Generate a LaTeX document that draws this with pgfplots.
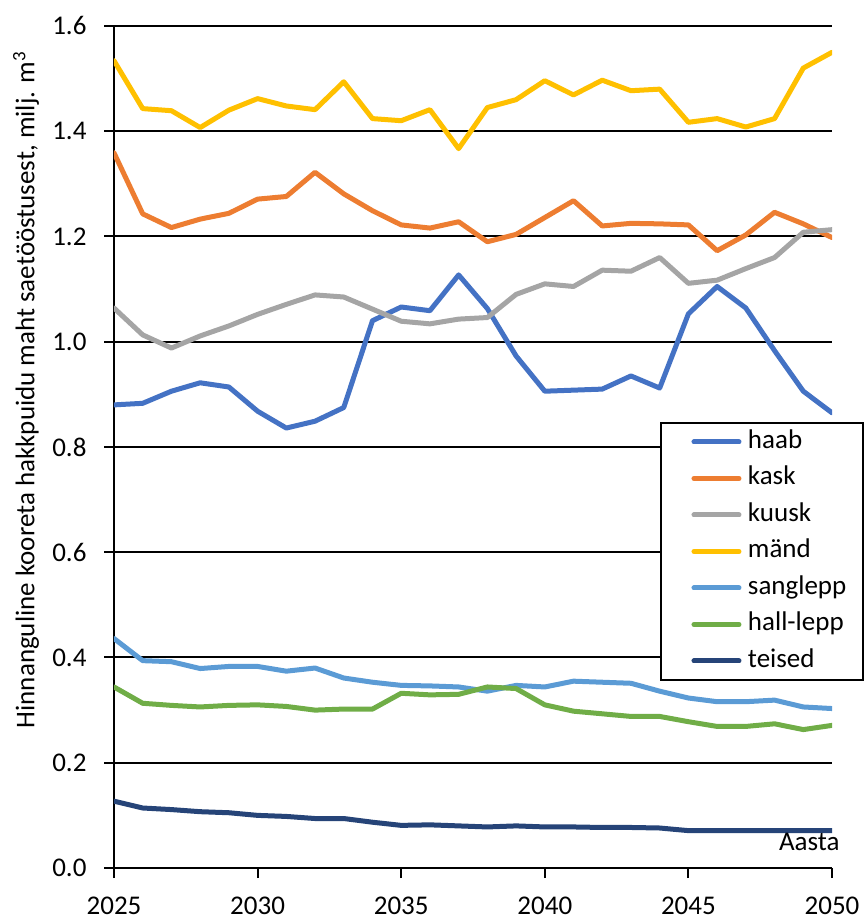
\documentclass[border=0pt]{standalone}
\usepackage{fontspec}
\setmainfont{Carlito}
\usepackage{pgfplots}
\usepackage{pgfplotstable}
\pgfplotsset{compat=1.18}
\definecolor{chaab}{HTML}{4472C4}
\definecolor{ckask}{HTML}{ED7D31}
\definecolor{ckuusk}{HTML}{A5A5A5}
\definecolor{cmand}{HTML}{FFC000}
\definecolor{csang}{HTML}{5B9BD5}
\definecolor{chall}{HTML}{70AD47}
\definecolor{cteised}{HTML}{264478}
\pgfplotstableread{
year haab kask kuusk mand sang hall teised
2025 0.880 1.359 1.064 1.534 0.436 0.344 0.127
2026 0.883 1.243 1.013 1.443 0.394 0.313 0.114
2027 0.906 1.217 0.988 1.439 0.392 0.309 0.111
2028 0.922 1.233 1.011 1.407 0.379 0.306 0.107
2029 0.914 1.244 1.030 1.440 0.383 0.309 0.105
2030 0.868 1.271 1.052 1.462 0.383 0.310 0.100
2031 0.836 1.276 1.071 1.448 0.374 0.307 0.098
2032 0.849 1.322 1.089 1.441 0.380 0.300 0.094
2033 0.875 1.281 1.085 1.494 0.361 0.302 0.094
2034 1.040 1.249 1.062 1.424 0.353 0.302 0.087
2035 1.066 1.222 1.039 1.420 0.347 0.332 0.081
2036 1.059 1.216 1.034 1.441 0.346 0.329 0.082
2037 1.127 1.228 1.043 1.367 0.344 0.330 0.080
2038 1.063 1.190 1.046 1.445 0.336 0.344 0.078
2039 0.973 1.204 1.090 1.460 0.347 0.341 0.080
2040 0.906 1.236 1.110 1.496 0.344 0.310 0.078
2041 0.908 1.268 1.105 1.469 0.355 0.298 0.078
2042 0.910 1.220 1.136 1.497 0.353 0.293 0.077
2043 0.935 1.225 1.134 1.477 0.351 0.288 0.077
2044 0.912 1.224 1.160 1.480 0.336 0.288 0.076
2045 1.053 1.222 1.111 1.417 0.323 0.278 0.071
2046 1.105 1.173 1.117 1.424 0.316 0.269 0.071
2047 1.064 1.203 1.139 1.408 0.316 0.269 0.071
2048 0.983 1.246 1.160 1.424 0.319 0.274 0.071
2049 0.906 1.224 1.208 1.520 0.306 0.263 0.071
2050 0.865 1.198 1.213 1.550 0.303 0.271 0.071
}\data
\begin{document}
\begin{tikzpicture}
\begin{axis}[
  scale only axis, width=718pt, height=842pt,
  xmin=2025, xmax=2050, ymin=0, ymax=1.6,
  axis x line*=bottom, axis y line*=left,
  axis line style={black, line width=2pt, -},
  xtick={2025,2030,2035,2040,2045,2050},
  ytick={0,0.2,0.4,0.6,0.8,1.0,1.2,1.4,1.6},
  tick align=outside,
  major tick length=10pt,
  tick style={black, line width=2pt},
  ymajorgrids, major grid style={black, line width=2pt},
  font=\fontsize{27}{32}\selectfont,
  ticklabel style={font=\fontsize{27}{32}\selectfont},
  /pgf/number format/assume math mode=true,
  xticklabel style={inner sep=0pt, text depth=0pt, yshift=-19pt, /pgf/number format/1000 sep={}},
  yticklabel style={xshift=-14pt, /pgf/number format/.cd, fixed, fixed zerofill, precision=1},
  ylabel={Hinnanguline kooreta hakkpuidu maht saetööstusest, milj. m\textsuperscript{3}},
  ylabel style={at={(axis description cs:-0.1226,0.5677)}, anchor=center, font=\fontsize{27}{32}\selectfont},
  xlabel={Aasta},
  xlabel style={at={(axis description cs:1,0)}, anchor=base east, xshift=11pt, yshift=17pt, font=\fontsize{27}{32}\selectfont},
  every axis plot/.append style={line width=5pt, line join=round, line cap=round},
  legend image code/.code={\path (-11pt,0pt); \draw[#1] (2.5pt,0pt) -- (47.5pt,0pt); \path (50pt,0pt);},
  legend cell align=left,
  legend style={at={(0.7604,0.5297)}, anchor=north west, draw=black, line width=2pt,
    inner xsep=17pt, inner ysep=5.5pt, row sep=9.5pt, column sep=4pt,
    font=\fontsize{27}{32}\selectfont,
    nodes={inner sep=0pt, text height=20pt, text depth=7pt}},
]
\addplot[color=chaab] table[x=year,y=haab]{\data};
\addlegendentry{haab}
\addplot[color=ckask] table[x=year,y=kask]{\data};
\addlegendentry{kask}
\addplot[color=ckuusk] table[x=year,y=kuusk]{\data};
\addlegendentry{kuusk}
\addplot[color=cmand] table[x=year,y=mand]{\data};
\addlegendentry{mänd}
\addplot[color=csang] table[x=year,y=sang]{\data};
\addlegendentry{sanglepp}
\addplot[color=chall] table[x=year,y=hall]{\data};
\addlegendentry{hall-lepp}
\addplot[color=cteised] table[x=year,y=teised]{\data};
\addlegendentry{teised}
\end{axis}
\pgfresetboundingbox
\useasboundingbox ([shift={(-114pt,-49pt)}]current axis.south west) rectangle ([shift={(750pt,868pt)}]current axis.south west);
\end{tikzpicture}
\end{document}
